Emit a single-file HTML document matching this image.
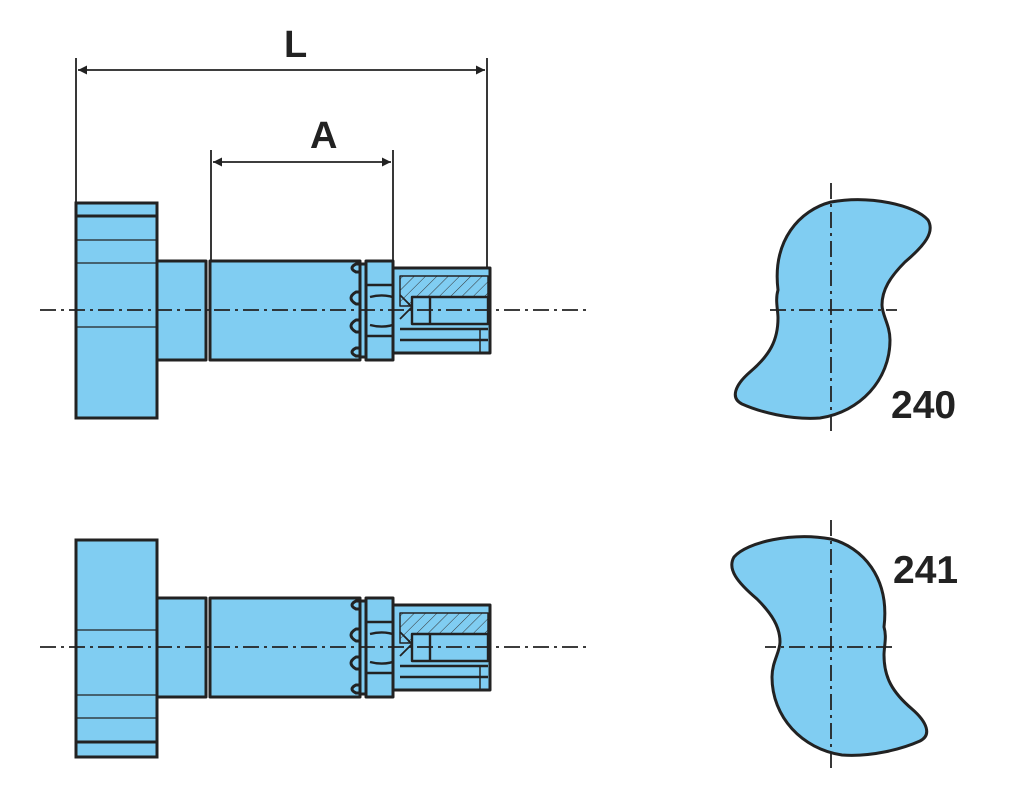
<!DOCTYPE html>
<html><head><meta charset="utf-8"><style>
html,body{margin:0;padding:0;background:#fff;width:1023px;height:810px;overflow:hidden}
svg{display:block}
text{font-family:"Liberation Sans",sans-serif;fill:#222;font-weight:bold}
</style></head><body>
<svg width="1023" height="810" viewBox="0 0 1023 810" xmlns="http://www.w3.org/2000/svg">
<defs>
<marker id="ar" viewBox="0 0 10 10" refX="10" refY="5" markerWidth="16" markerHeight="9" orient="auto-start-reverse" markerUnits="userSpaceOnUse"><path d="M0,0 L10,5 L0,10 z" fill="#222"/></marker>
<pattern id="hatch" width="8" height="8" patternUnits="userSpaceOnUse" patternTransform="rotate(45)"><rect width="8" height="8" fill="#80cdf2"/><line x1="0" y1="0" x2="0" y2="8" stroke="#333" stroke-width="1"/></pattern>
<g id="shaft" stroke="#222" stroke-width="3" fill="#80cdf2" stroke-linejoin="round">
  <rect x="157" y="261" width="49" height="99"/>
  <rect x="210" y="261" width="150" height="99"/>
  <path d="M360,264 l-4,0 q-8,4 0,8 l4,0 M360,292 l-4,0 q-10,6 0,12 l4,0 M360,320 l-4,0 q-10,6 0,12 l4,0 M360,348 l-4,0 q-8,4 0,8 l4,0" fill="#80cdf2"/>
  <rect x="360" y="264" width="6" height="93"/>
  <rect x="366" y="261" width="27" height="99"/>
  <path d="M370,297 q15,-4 28,2 M370,325 q15,4 28,-2" fill="none" stroke-width="2.4"/>
  <rect x="393" y="268" width="97" height="85"/>
  <rect x="400" y="276" width="88" height="30" fill="url(#hatch)" stroke-width="1.5"/>
  <rect x="412" y="297" width="76" height="27" stroke-width="2.4"/>
  <line x1="430" y1="297" x2="430" y2="324" stroke-width="2.4"/>
  <path d="M400,295 l12,12 l-12,12" fill="none" stroke-width="1.8"/>
  <line x1="400" y1="329" x2="488" y2="329" stroke-width="2.4"/>
  <line x1="400" y1="340" x2="488" y2="340" stroke-width="2.4"/>
  <line x1="480" y1="329" x2="480" y2="353" stroke-width="1.5"/>
  <line x1="366" y1="285" x2="393" y2="285" stroke-width="2.4"/>
  <line x1="366" y1="336" x2="393" y2="336" stroke-width="2.4"/>
</g>
</defs>

<g stroke="#222" stroke-width="1.8" fill="none">
  <line x1="76" y1="58" x2="76" y2="203"/>
  <line x1="487" y1="58" x2="487" y2="268"/>
  <line x1="78" y1="70" x2="485" y2="70" marker-start="url(#ar)" marker-end="url(#ar)"/>
  <line x1="211" y1="150" x2="211" y2="261"/>
  <line x1="393" y1="150" x2="393" y2="261"/>
  <line x1="213" y1="162" x2="391" y2="162" marker-start="url(#ar)" marker-end="url(#ar)"/>
</g>
<text x="284" y="57" font-size="38">L</text>
<text x="310" y="148" font-size="38">A</text>

<g stroke="#222" stroke-width="3" fill="#80cdf2">
  <rect x="76" y="203" width="81" height="215"/>
</g>
<g stroke="#222" fill="none">
  <line x1="76" y1="216" x2="157" y2="216" stroke-width="3"/>
  <line x1="76" y1="240" x2="157" y2="240" stroke-width="1.3"/>
  <line x1="76" y1="263" x2="157" y2="263" stroke-width="1.3"/>
  <line x1="76" y1="327" x2="157" y2="327" stroke-width="1.3"/>
</g>
<use href="#shaft"/>
<line x1="40" y1="310" x2="588" y2="310" stroke="#222" stroke-width="1.8" stroke-dasharray="16,5,3,5"/>

<g stroke="#222" stroke-width="3" fill="#80cdf2">
  <rect x="76" y="540" width="81" height="217"/>
</g>
<g stroke="#222" fill="none">
  <line x1="76" y1="630" x2="157" y2="630" stroke-width="1.3"/>
  <line x1="76" y1="695" x2="157" y2="695" stroke-width="1.3"/>
  <line x1="76" y1="718" x2="157" y2="718" stroke-width="1.3"/>
  <line x1="76" y1="742" x2="157" y2="742" stroke-width="3"/>
</g>
<use href="#shaft" transform="translate(0,337)"/>
<line x1="40" y1="647" x2="588" y2="647" stroke="#222" stroke-width="1.8" stroke-dasharray="16,5,3,5"/>

<g id="cam">
<path d="M831,202 C870,195 915,205 928,220 C935,232 925,245 905,262 C890,277 882,290 882,305 C882,315 890,325 890,340 C890,380 860,412 820,418 C790,420 760,412 742,404 C730,398 735,385 750,372 C770,355 778,340 778,318 C778,310 775,300 778,290 C772,240 800,210 831,202 Z" fill="#80cdf2" stroke="#222" stroke-width="3"/>
<line x1="831" y1="183" x2="831" y2="432" stroke="#222" stroke-width="1.8" stroke-dasharray="16,5,3,5"/>
<line x1="770" y1="310" x2="897" y2="310" stroke="#222" stroke-width="1.8" stroke-dasharray="16,5,3,5"/>
</g>
<use href="#cam" transform="translate(1662,337) scale(-1,1)"/>
<text x="891" y="418" font-size="39">240</text>
<text x="893" y="583" font-size="39">241</text>
</svg>
</body></html>
